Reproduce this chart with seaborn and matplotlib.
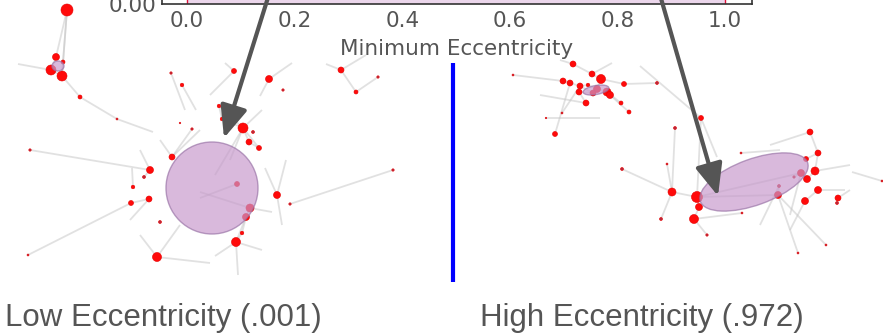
import numpy as np
import pandas as pd
import matplotlib
matplotlib.use("Agg")
import matplotlib.pyplot as plt
import seaborn as sns
from matplotlib.collections import LineCollection
from matplotlib.patches import Ellipse

# ---------------- data ----------------
ecc_values = [0.001, 0.05, 0.12, 0.18, 0.22, 0.30, 0.35, 0.41, 0.47, 0.52,
              0.58, 0.63, 0.70, 0.76, 0.81, 0.88, 0.93, 0.972, 0.99]
highlight_ecc = [0.0, 1.0]
x_ticks = [0.0, 0.2, 0.4, 0.6, 0.8, 1.0]
x_tick_labels = ["0.0", "0.2", "0.4", "0.6", "0.8", "1.0"]
y_ticks = [0.0]
y_tick_labels = ["0.00"]
x_label = "Minimum Eccentricity"
captions = ["Low Eccentricity (.001)", "High Eccentricity (.972)"]
caption_x = [5, 480]

# node layout of the two network views (pixel-like layout units)
left_x = [67, 56, 51, 62, 63, 80, 117, 30, 28, 171, 182, 234, 269, 283, 341, 356, 378,
          219, 222, 243, 253, 249, 259, 180, 192, 172, 150, 144, 133, 131, 149, 160,
          237, 277, 290, 250, 246, 242, 236, 157, 393,
          18, 153, 230, 215, 262, 160, 200, 140, 215, 262, 238, 210, 140, 180, 282,
          265, 286, 200, 272, 200, 185, 196, 210, 292, 260, 326, 366, 225, 132, 130]
left_y = [10, 57, 70, 76, 62, 97, 119, 150, 255, 73, 85, 71, 79, 90, 70, 92, 77,
          106, 119, 128, 132, 142, 148, 123, 129, 157, 170, 177, 187, 203, 199, 222,
          184, 195, 204, 208, 217, 233, 242, 257, 170,
          64, 132, 160, 175, 110, 140, 130, 150, 256, 250, 275, 263, 235, 225, 225,
          168, 160, 192, 212, 198, 110, 110, 95, 63, 96, 64, 55, 63, 168, 220]
left_r = [6, 3.5, 5, 5, 2, 2, 1, 1.2, 1, 1.2, 1.8, 2.5, 3.5, 1.2, 3, 2, 1.2,
          1.8, 1.8, 5, 1.5, 3, 2.5, 0.8, 1.2, 3, 3.5, 1.5, 1.8, 2.5, 3, 1.5,
          2.5, 3.5, 1.2, 4, 3.5, 1.8, 4.5, 4.5, 1.2,
          0, 0, 0, 0, 0, 0, 0, 0, 0, 0, 0, 0, 0, 0, 0,
          0, 0, 0, 0, 0, 0, 0, 0, 0, 0, 0, 0, 0, 0, 0]
left_edges = [(0, 1), (0, 4), (0, 3), (1, 2), (2, 3), (3, 4), (3, 5), (5, 6), (6, 42),
              (2, 41), (7, 26), (8, 29), (40, 34), (19, 17), (19, 18), (19, 21),
              (19, 22), (19, 43), (19, 44), (19, 45), (25, 46), (25, 47), (26, 27),
              (26, 48), (38, 49), (38, 50), (38, 51), (38, 36), (39, 52), (39, 53),
              (39, 54), (33, 55), (33, 56), (33, 57), (35, 58), (35, 59), (35, 36),
              (32, 60), (9, 61), (10, 62), (11, 63), (12, 64), (12, 65), (14, 66),
              (14, 15), (15, 16), (14, 67), (11, 68), (28, 69), (30, 70), (29, 30),
              (21, 22), (36, 37), (37, 38), (17, 18), (24, 25)]

right_x = [573, 592, 601, 563, 570, 580, 588, 597, 607, 610, 593, 579, 586, 624, 657,
           621, 629, 555, 562, 513, 546, 701, 675, 622, 667, 672, 661, 697, 699, 694,
           707, 741, 742, 779, 778, 801, 794, 807, 815, 806, 818, 810, 818, 805, 838,
           837, 882, 798, 826,
           717, 780, 770, 850, 852, 845, 850, 790, 790, 760, 640, 560, 612, 600, 540]
right_y = [64, 74, 79, 81, 83, 86, 85, 89, 92, 95, 93, 92, 103, 84, 83, 103, 112,
           134, 113, 75, 118, 118, 128, 169, 164, 192, 219, 197, 207, 219, 235, 153,
           213, 186, 195, 173, 177, 179, 171, 159, 153, 132, 190, 201, 198, 203, 181,
           253, 245,
           157, 150, 145, 165, 172, 190, 190, 215, 230, 225, 66, 60, 63, 118, 95]
right_r = [3, 3, 4.5, 3, 3, 3, 1.8, 3.5, 4, 3.5, 3, 3, 3, 2.5, 1.5, 2, 2, 2.5, 1,
           1, 0.8, 2.5, 1.5, 1.5, 1, 4, 1.5, 5.5, 3.5, 4.5, 1.2, 1, 1, 1.5, 3.5,
           3.5, 1.2, 3.5, 4, 2.5, 3, 3, 3.5, 3.5, 3, 1.5, 1, 1, 1,
           0, 0, 0, 0, 0, 0, 0, 0, 0, 0, 0, 0, 0, 0, 0]
right_edges = [(0, 1), (1, 2), (2, 7), (7, 8), (8, 9), (3, 4), (4, 5), (5, 6), (6, 7),
               (10, 11), (11, 12), (5, 10), (2, 13), (13, 14), (8, 15), (9, 16),
               (17, 4), (18, 5), (19, 3), (20, 62), (0, 60), (1, 61), (12, 63),
               (21, 49), (21, 59), (22, 25), (23, 25), (24, 25), (25, 26), (25, 27),
               (27, 28), (28, 29), (29, 30), (29, 32), (27, 34), (27, 35), (31, 50),
               (41, 51), (41, 40), (40, 38), (38, 52), (46, 53), (42, 54), (44, 55),
               (34, 47), (34, 48), (35, 56), (43, 57), (33, 58), (35, 37), (37, 38),
               (39, 40), (42, 43), (36, 35), (44, 45), (33, 34), (21, 27)]

# highlighted ellipses: centre x, centre y, width, height, angle
ell_cx = [212, 754, 58, 596]
ell_cy = [188, 182, 66, 90]
ell_w = [92, 114, 12, 26]
ell_h = [92, 46, 10, 9]
ell_angle = [0, -20, 0, -10]

# arrows: start (text end) and tip
arrow_start_x = [271, 658]
arrow_start_y = [-12, -12]
arrow_tip_x = [224, 718]
arrow_tip_y = [138, 196]

# divider line
divider_x = [453]
divider_y0 = [63]
divider_y1 = [282]

# ---------------- figure ----------------
sns.set_style("white")
plt.rcParams["font.family"] = ["DejaVu Sans"]

W, H = 883, 334
fig = plt.figure(figsize=(W / 100, H / 100), dpi=100)

# network overlay (full figure, pixel-like units)
net = fig.add_axes([0, 0, 1, 1], zorder=0)
net.set_xlim(0, W)
net.set_ylim(H, 0)
net.axis("off")


def draw_graph(ax, xs, ys, rs, edges):
    segs = [[(xs[i], ys[i]), (xs[j], ys[j])] for i, j in edges]
    ax.add_collection(LineCollection(segs, colors="#c4c4c4", alpha=0.5,
                                     linewidths=1.3, zorder=1))
    df = pd.DataFrame({"x": xs, "y": ys, "r": rs})
    df = df[df["r"] > 0]
    df["kind"] = np.where(df["r"] < 1.6, "small", "big")
    sizes = ((2 * df["r"] * 0.72) ** 2).tolist()
    sns.scatterplot(data=df, x="x", y="y", hue="kind",
                    palette={"big": "#ff0a0a", "small": "#b8283c"},
                    s=sizes, edgecolor="#e60000", linewidth=0.4,
                    legend=False, ax=ax, zorder=2)


draw_graph(net, left_x, left_y, left_r, left_edges)
draw_graph(net, right_x, right_y, right_r, right_edges)
net.set_xlim(0, W)
net.set_ylim(H, 0)
net.set_xlabel("")
net.set_ylabel("")

for cx, cy, w, h, a in zip(ell_cx, ell_cy, ell_w, ell_h, ell_angle):
    net.add_patch(Ellipse((cx, cy), w, h, angle=a, facecolor=(0.78, 0.60, 0.80),
                          alpha=0.68, edgecolor=(0.60, 0.45, 0.65), lw=1.0, zorder=3))

for x, y0, y1 in zip(divider_x, divider_y0, divider_y1):
    net.plot([x, x], [y0, y1], color="#0000ff", lw=3, solid_capstyle="butt", zorder=4)

for cx, text in zip(caption_x, captions):
    net.text(cx, 318, text, ha="left", va="center", fontsize=22.5,
             family=["Liberation Sans", "DejaVu Sans"], color="#555555")

# top histogram chart (mostly above the visible area)
ax = fig.add_axes([162 / W, 1 - 4 / H, 590 / W, 0.6], zorder=1)
sns.histplot(x=ecc_values, bins=10, binrange=(0, 1), color=(0.92, 0.84, 0.92),
             alpha=1.0, edgecolor=(0.92, 0.84, 0.92), linewidth=0.5, ax=ax)
sns.rugplot(x=highlight_ecc, color="#e0103a", height=0.05, lw=2.2, ax=ax)
ax.set_xlim(-0.0465, 1.050)
ax.set_ylim(0, 4)
ax.set_xticks(x_ticks)
ax.set_xticklabels(x_tick_labels)
ax.set_yticks(y_ticks)
ax.set_yticklabels(y_tick_labels)
ax.tick_params(axis="both", length=0, labelsize=15.5, labelcolor="#555555")
ax.tick_params(axis="x", pad=5)
ax.tick_params(axis="y", pad=4)
ax.set_xlabel(x_label, fontsize=15.5, color="#555555", labelpad=6)
ax.set_ylabel("")
for sp in ax.spines.values():
    sp.set_visible(True)
    sp.set_color("#333333")
    sp.set_linewidth(1.2)

# arrows on top of everything
top = fig.add_axes([0, 0, 1, 1], zorder=2)
top.set_xlim(0, W)
top.set_ylim(H, 0)
top.axis("off")
top.patch.set_alpha(0)
for sx, sy, tx, ty in zip(arrow_start_x, arrow_start_y, arrow_tip_x, arrow_tip_y):
    top.annotate("", xy=(tx, ty), xytext=(sx, sy), annotation_clip=False,
                 arrowprops=dict(arrowstyle="-|>,head_width=0.32,head_length=0.75",
                                 mutation_scale=26, lw=3, color="#555555",
                                 shrinkA=0, shrinkB=0))

fig.savefig("out.png", dpi=100)
